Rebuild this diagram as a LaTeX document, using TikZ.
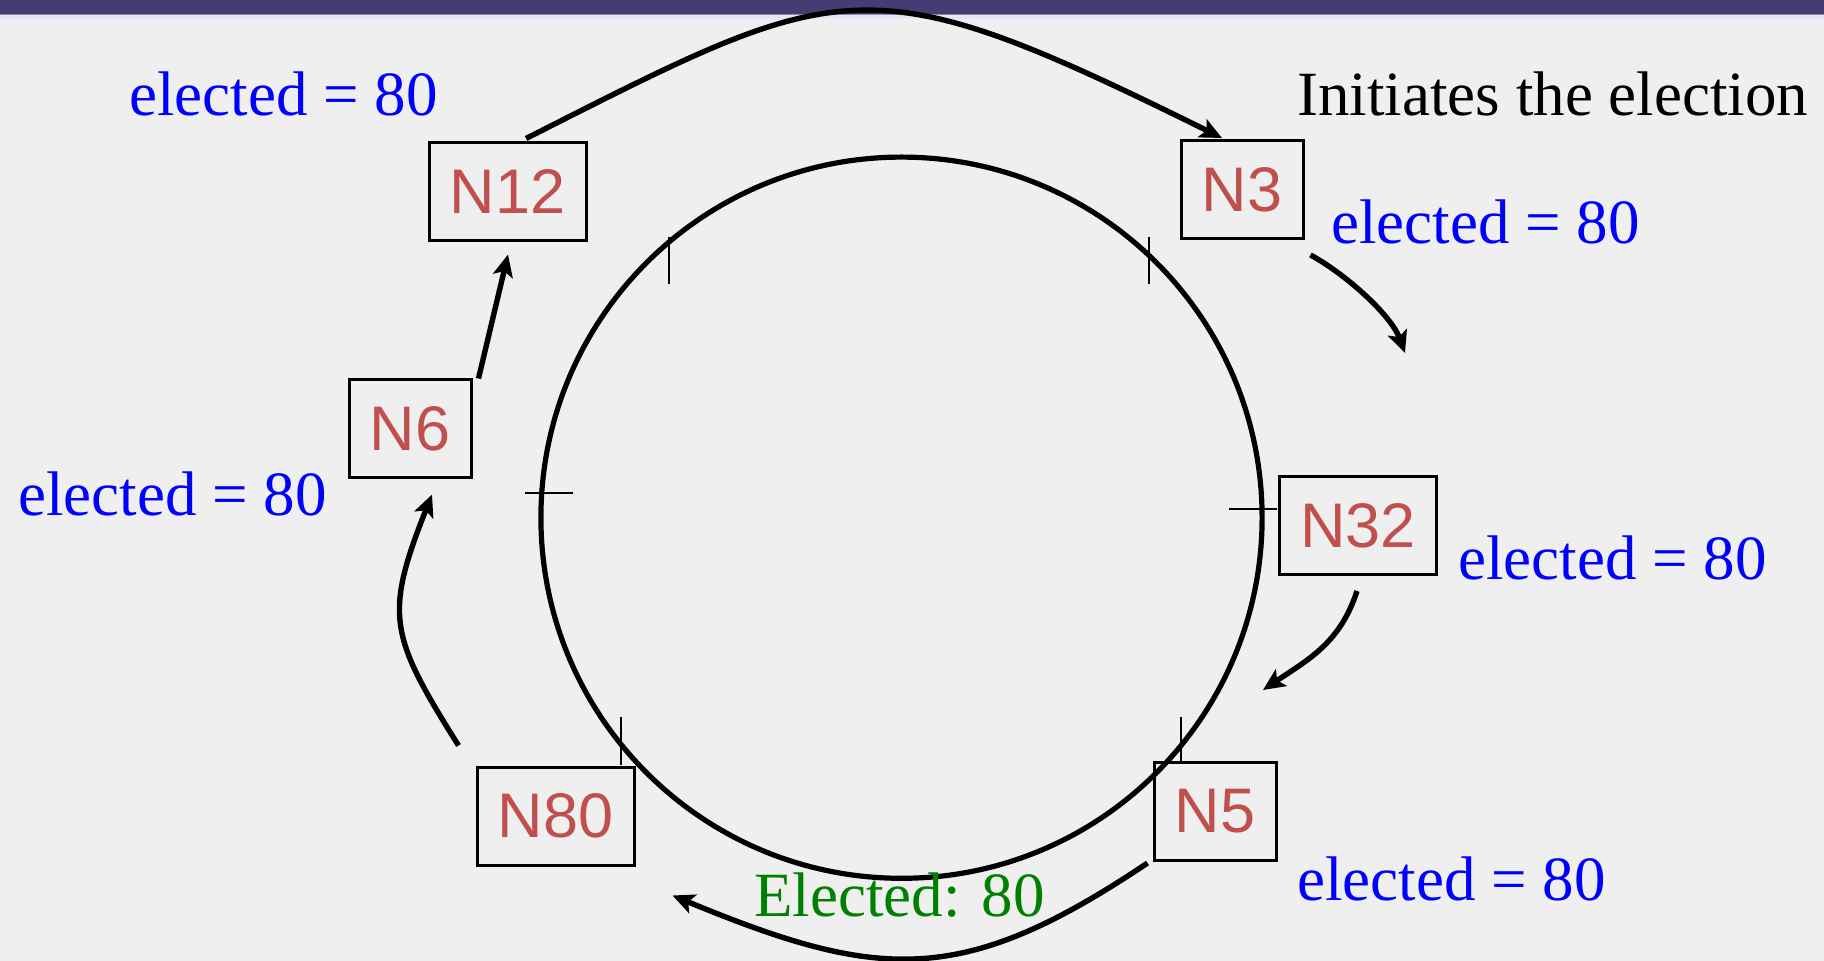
\documentclass[tikz,border=0pt]{standalone}
\usepackage{fontspec}
\setmainfont{Liberation Serif}
\newfontfamily\boxfont{Liberation Sans}
\usetikzlibrary{arrows.meta}
\definecolor{slidebg}{HTML}{EFEFEF}
\definecolor{slidebar}{HTML}{433D73}
\definecolor{barmid}{HTML}{8C88B0}
\definecolor{barlight}{HTML}{E6E6F4}
\definecolor{nodered}{HTML}{C0504D}
\definecolor{winner}{HTML}{008000}

\begin{document}
\begin{tikzpicture}[x=0.5pt,y=-0.5pt,
	ringnode/.style={draw=black, line width=1.5pt, inner sep=0pt, minimum height=49pt, text=nodered, font=\boxfont\fontsize{31.5}{36}\selectfont},
	wide/.style={ringnode, minimum width=78.5pt},
	narrow/.style={ringnode, minimum width=61pt},
	note/.style={anchor=base west, inner sep=0pt, text=blue, font=\fontsize{31.5}{36}\selectfont},
	msg/.style={line width=2.7pt, -{Stealth[length=11pt,width=10pt,inset=2.5pt]}},
	tick/.style={line width=1pt}]
		\useasboundingbox (0,0) rectangle (1824,961);
		\fill[slidebg] (0,0) rectangle (1824,961);
		\fill[slidebar] (0,0) rectangle (1824,14);
		\fill[barmid] (0,14) rectangle (1824,15.5);
		\fill[barlight] (0,15.5) rectangle (1824,19);
		\draw[line width=2.6pt] (901.5,517.7) circle[radius=180.3pt];
		\draw[tick] (669,237) -- (669,284);
		\draw[tick] (1149,237) -- (1149,284);
		\draw[tick] (525,493) -- (573,493);
		\draw[tick] (1229,509) -- (1277,509);
		\draw[tick] (621,717) -- (621,765);
		\draw[tick] (1181,717) -- (1181,764);
		\node[wide] (n12) at (507.5,192) {N12};
		\node[narrow] (n3) at (1242,189.5) {N3};
		\node[wide] (n32) at (1358,525.5) {N32};
		\node[narrow] (n5) at (1215,811.5) {N5};
		\node[wide] (n80) at (555.5,816) {N80};
		\node[narrow] (n6) at (410,429) {N6};
		\node[note] (e12) at (129,116) {elected = 80};
		\node[note, text=black] (init) at (1297,116) {Initiates the election};
		\node[note] (e3) at (1331,244) {elected = 80};
		\node[note] (e32) at (1458,580) {elected = 80};
		\node[note] (e5) at (1297,900) {elected = 80};
		\node[note] (e6) at (18,516) {elected = 80};
		\node[note, text=winner] (won) at (754,916) {Elected: 80};
		\draw[msg] ([shift={(18.5,-3)}]n12.north) .. controls +(320,-162) and +(-358,-177) .. ([shift={(-20,-1)}]n3.north);
		\draw[msg] ([shift={(6,15)}]n3.south east) .. controls +(35,19) and +(-14,-38) .. ([shift={(47,-122)}]n32.north);
		\draw[msg] ([shift={(-1,15)}]n32.south) .. controls +(-17,52) and +(46,-31) .. ([shift={(48,-71)}]n5.north);
		\draw[msg] ([shift={(-5,1)}]n5.south west) .. controls +(-186,125) and +(206,85) .. ([shift={(37,29)}]n80.south east);
		\draw[msg] ([shift={(-17,-20)}]n80.north west) .. controls +(-69,-110) and +(-48,121) .. ([shift={(22,15)}]n6.south);
		\draw[msg] ([shift={(6,0)}]n6.north east) -- ([shift={(0.5,12)}]n12.south);
	\end{tikzpicture}
\end{document}
